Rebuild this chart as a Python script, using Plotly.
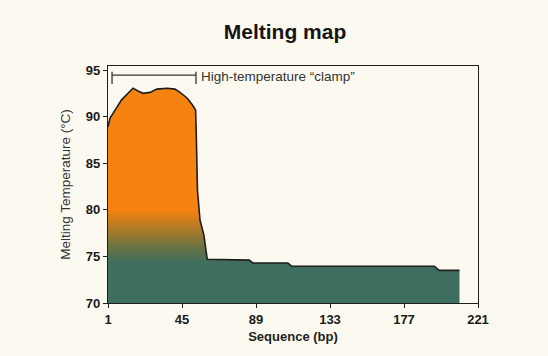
import plotly.graph_objects as go

# ---- data ----
seq_bp = [1, 2.2, 5.2, 9.1, 12.9, 15.9, 18.8, 21.8, 26, 30, 36, 40.8, 43.8, 48, 51, 53.1,
          53.5, 53.8, 54.2, 55.7, 58, 60, 85, 87, 108, 110, 195, 198, 210]
melt_temp = [88.9, 89.85, 90.7, 91.8, 92.5, 93.05, 92.75, 92.5, 92.6, 92.95, 93.05, 92.95,
             92.6, 92.0, 91.3, 90.7, 88.0, 85.4, 82.1, 78.9, 77.3, 74.7, 74.6, 74.3, 74.3,
             73.95, 73.95, 73.5, 73.5]

x_ticks = [1, 45, 89, 133, 177, 221]
y_ticks = [70, 75, 80, 85, 90, 95]

clamp_start, clamp_end = 3.4, 53.3
clamp_y, clamp_tick_top, clamp_tick_bottom = 94.45, 94.8, 93.5
clamp_label = "High-temperature \u201cclamp\u201d"

ORANGE = "#F6820F"
TEAL = "#3D6E60"
BG = "#FCFAF0"
INK = "#1E1E1E"

fig = go.Figure()

# gradient fill
fig.add_trace(go.Scatter(
    x=seq_bp, y=melt_temp, mode="lines", fill="tozeroy",
    line=dict(color=INK, width=1.6),
    fillgradient=dict(type="vertical", start=70, stop=95,
                      colorscale=[[0, TEAL], [0.17, TEAL], [0.24, "#6A7242"],
                                  [0.31, "#A87A2A"], [0.40, ORANGE], [1, ORANGE]]),
    hoverinfo="skip", showlegend=False,
))

# clamp bracket
fig.add_trace(go.Scatter(
    x=[clamp_start, clamp_start, None, clamp_start, clamp_end, None, clamp_end, clamp_end],
    y=[clamp_tick_top, clamp_tick_bottom, None, clamp_y, clamp_y, None, clamp_tick_top, clamp_tick_bottom],
    mode="lines", line=dict(color="#333333", width=1.3),
    hoverinfo="skip", showlegend=False,
))

fig.add_annotation(x=clamp_end + 1.8, y=94.3, xanchor="left", yanchor="middle",
                   text=clamp_label, showarrow=False,
                   font=dict(family="Liberation Sans, Arial, sans-serif", size=13.5, color="#333333"))

fig.update_layout(
    width=548, height=356,
    margin=dict(l=108, r=70, t=66, b=53),
    paper_bgcolor=BG, plot_bgcolor=BG,
    title=dict(text="<b>Melting map</b>", x=285/548, xanchor="center", y=1-32/356, yanchor="middle",
               font=dict(family="Liberation Sans, Arial, sans-serif", size=21, color="#151515")),
    font=dict(family="Liberation Sans, Arial, sans-serif", color="#222222"),
)

fig.update_xaxes(
    range=[1, 221], tickvals=x_ticks, ticktext=["<b>%d</b>" % t for t in x_ticks],
    showgrid=False, zeroline=False, showline=True, linecolor=INK, linewidth=1.3, mirror=True,
    ticks="outside", ticklen=4, tickcolor=INK, tickwidth=1.3, automargin=False,
    tickfont=dict(size=13, color="#1a1a1a", family="Liberation Sans, Arial"),
    title=dict(text="<b>Sequence (bp)</b>", font=dict(size=13, color="#222222"), standoff=6),
)
fig.update_yaxes(
    range=[70, 95.43], tickvals=y_ticks, ticktext=["<b>%d</b>" % t for t in y_ticks],
    showgrid=False, zeroline=False, showline=True, linecolor=INK, linewidth=1.3, mirror=True,
    ticks="outside", ticklen=4, tickcolor=INK, tickwidth=1.3, automargin=False,
    tickfont=dict(size=13, color="#1a1a1a", family="Liberation Sans, Arial"),
    title=dict(text="Melting Temperature (\u00b0C)", font=dict(size=13.5, color="#333333"), standoff=12),
)

fig.write_html("out.html", config={"displayModeBar": False},
               post_script="document.body.style.margin='0';document.body.style.background='%s';" % BG)
